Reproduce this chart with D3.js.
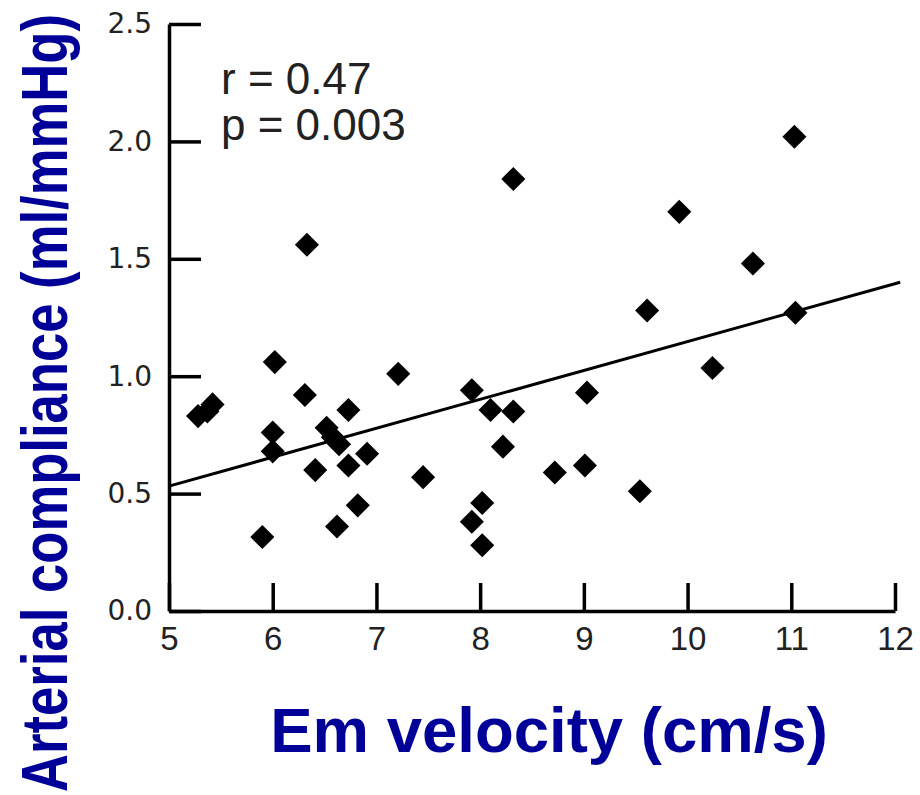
<!DOCTYPE html>
<html lang="en">
<head>
  <meta charset="UTF-8">
  <title>Arterial compliance vs Em velocity</title>
  <style>
    body { margin: 0; background: #fff; }
    svg { display: block; }
    .axis path, .axis line { stroke: #000; stroke-width: 3.5; }
    .ytick text { font-family: 'DejaVu Sans', sans-serif; font-size: 28px; fill: #222; }
    .xtick text { font-family: 'Liberation Sans', Arial, sans-serif; font-size: 33px; fill: #222; }
    .stat { font-family: 'Liberation Sans', Arial, sans-serif; font-size: 44px; fill: #222; }
    .title { font-family: 'Liberation Sans', Arial, sans-serif; font-weight: bold; fill: #000099; }
  </style>
</head>
<body>
<div id="chart"></div>
<script src="https://d3js.org/d3.v7.min.js"></script>
<script>
// values
var emVelocity = [5.28, 5.37, 5.42, 5.90, 6.00, 6.00, 6.02, 6.31, 6.33, 6.41,
                  6.52, 6.58, 6.64, 6.62, 6.73, 6.73, 6.82, 6.91, 7.21, 7.45,
                  7.92, 7.92, 8.02, 8.02, 8.10, 8.22, 8.32, 8.32, 8.72, 9.01,
                  9.03, 9.54, 9.61, 9.92, 10.24, 10.63, 11.03, 11.04];
var compliance = [0.83, 0.85, 0.88, 0.315, 0.76, 0.68, 1.06, 0.92, 1.56, 0.60,
                  0.78, 0.74, 0.71, 0.36, 0.856, 0.62, 0.45, 0.67, 1.01, 0.57,
                  0.94, 0.38, 0.46, 0.28, 0.856, 0.70, 0.85, 1.84, 0.59, 0.62,
                  0.93, 0.51, 1.28, 1.70, 1.035, 1.48, 2.02, 1.27];
var fitX = [5, 12.05];
var fitY = [0.532, 1.40];
var xTicks = [5, 6, 7, 8, 9, 10, 11, 12];
var yTicks = [0, 0.5, 1.0, 1.5, 2.0, 2.5];
var statLines = ["r = 0.47", "p = 0.003"];

var W = 920, H = 795;

var svg = d3.select("#chart").append("svg")
  .attr("width", W)
  .attr("height", H);

var x = d3.scaleLinear().domain([5, 12]).range([169, 895]);
var y = d3.scaleLinear().domain([0, 2.5]).range([611, 24]);

// axes, ticks point inward
svg.append("g")
  .attr("class", "axis xtick")
  .attr("transform", "translate(0," + y(0) + ")")
  .call(d3.axisBottom(x).tickValues(xTicks).tickFormat(d3.format("d"))
    .tickSizeInner(-28).tickSizeOuter(0).tickPadding(16))
  .call(g => g.selectAll("text").attr("fill", null));

svg.append("g")
  .attr("class", "axis ytick")
  .attr("transform", "translate(" + x(5) + ",0)")
  .call(d3.axisLeft(y).tickValues(yTicks).tickFormat(d3.format(".1f"))
    .tickSizeInner(-32).tickSizeOuter(0).tickPadding(17))
  .call(g => g.selectAll("text").attr("fill", null));

// regression line
svg.append("line")
  .attr("x1", x(fitX[0])).attr("y1", y(fitY[0]))
  .attr("x2", x(fitX[1])).attr("y2", y(fitY[1]))
  .attr("stroke", "#000")
  .attr("stroke-width", 3);

// diamonds
var diamond = d3.symbol().type(d3.symbolSquare).size(290);
svg.append("g")
  .selectAll("path")
  .data(emVelocity.map((d, i) => [d, compliance[i]]))
  .join("path")
  .attr("d", diamond)
  .attr("transform", d => "translate(" + x(d[0]) + "," + y(d[1]) + ") rotate(45)")
  .attr("fill", "#000");

// r / p text
svg.selectAll(".stat")
  .data(statLines)
  .join("text")
  .attr("class", "stat")
  .attr("x", 221)
  .attr("y", (d, i) => 94 + i * 46)
  .text(d => d);

// axis titles
svg.append("text")
  .attr("class", "title")
  .attr("x", 549)
  .attr("y", 752)
  .attr("text-anchor", "middle")
  .style("font-size", "63.5px")
  .text("Em velocity (cm/s)");

// y title is squeezed along its length, as in the original
var yTitle = svg.append("text")
  .attr("class", "title")
  .attr("text-anchor", "middle")
  .style("font-size", "64px")
  .text("Arterial compliance (ml/mmHg)");
var natural = yTitle.node().getComputedTextLength();
var squeeze = 778 / natural;
yTitle.attr("transform", "translate(67,403) rotate(-90) scale(" + squeeze + ",1)");
</script>
</body>
</html>
